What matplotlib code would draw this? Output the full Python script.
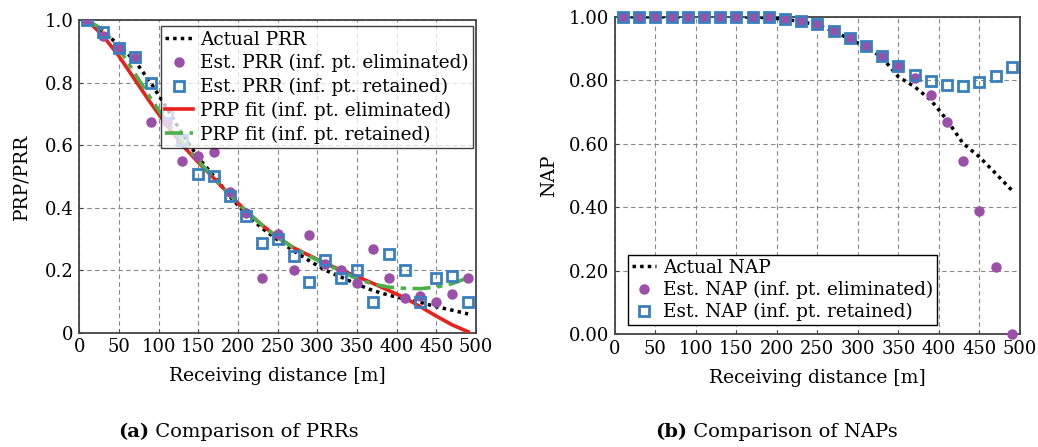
import matplotlib
matplotlib.use("Agg")
import matplotlib.pyplot as plt

plt.rcParams['font.family'] = ['DejaVu Serif']

# ---------------- data ----------------
dist = [10, 30, 50, 70, 90, 110, 130, 150, 170, 190, 210, 230, 250,
        270, 290, 310, 330, 350, 370, 390, 410, 430, 450, 470, 490]

# (a) PRR
prr_actual = [1.0, 0.965, 0.92, 0.87, 0.80, 0.72, 0.635, 0.56, 0.50, 0.435, 0.38,
              0.335, 0.297, 0.262, 0.23, 0.20, 0.178, 0.155, 0.135, 0.12, 0.108,
              0.097, 0.083, 0.072, 0.06]
prr_est_elim = [1.0, 0.949, 0.91, 0.88, 0.675, 0.675, 0.55, 0.566, 0.579, 0.451, 0.382,
                0.176, 0.316, 0.20, 0.313, 0.219, 0.20, 0.158, 0.267, 0.176, 0.112,
                0.117, 0.099, 0.124, 0.176]
prr_est_ret = [1.0, 0.961, 0.91, 0.883, 0.80, 0.702, 0.617, 0.508, 0.50, 0.437, 0.374,
               0.286, 0.299, 0.245, 0.163, 0.233, 0.176, 0.20, 0.099, 0.251, 0.20,
               0.099, 0.176, 0.181, 0.099]
prp_fit_elim = [1.0, 0.95, 0.885, 0.81, 0.735, 0.665, 0.60, 0.545, 0.493, 0.44, 0.39,
                0.345, 0.305, 0.272, 0.247, 0.222, 0.20, 0.18, 0.158, 0.135, 0.112,
                0.083, 0.053, 0.025, 0.003]
prp_fit_ret = [1.0, 0.97, 0.91, 0.83, 0.75, 0.675, 0.61, 0.55, 0.495, 0.44, 0.39,
               0.345, 0.305, 0.272, 0.245, 0.22, 0.197, 0.172, 0.156, 0.146, 0.142,
               0.141, 0.146, 0.157, 0.176]

# (b) NAP
nap_actual = [1.0, 1.0, 1.0, 1.0, 1.0, 1.0, 1.0, 1.0, 0.999, 0.997, 0.992, 0.985, 0.974,
              0.955, 0.93, 0.905, 0.872, 0.811, 0.78, 0.738, 0.675, 0.601, 0.559,
              0.507, 0.454]
nap_est_elim = [1.0, 1.0, 1.0, 1.0, 1.0, 1.0, 1.0, 1.0, 1.0, 0.998, 0.993, 0.986, 0.976,
                0.956, 0.934, 0.908, 0.877, 0.845, 0.806, 0.754, 0.67, 0.547, 0.389,
                0.213, 0.0]
nap_est_ret = [1.0, 1.0, 1.0, 1.0, 1.0, 1.0, 1.0, 1.0, 1.0, 0.998, 0.993, 0.986, 0.976,
               0.956, 0.934, 0.908, 0.877, 0.845, 0.817, 0.798, 0.785, 0.783, 0.794,
               0.815, 0.841]

xticks = [0, 50, 100, 150, 200, 250, 300, 350, 400, 450, 500]
yticks_a = [0, 0.2, 0.4, 0.6, 0.8, 1.0]
ytick_labels_a = ['0', '0.2', '0.4', '0.6', '0.8', '1.0']
yticks_b = [0, 0.2, 0.4, 0.6, 0.8, 1.0]
ytick_labels_b = ['0.00', '0.20', '0.40', '0.60', '0.80', '1.00']

# ---------------- styles ----------------
PURPLE = '#9a4fa8'
BLUE = '#3a7fbd'
RED = '#e8211d'
GREEN = '#4cb04a'
FS_TICK = 13
FS_LAB = 13.5
FS_LEG = 13.3
FS_CAP = 14

fig = plt.figure(figsize=(10.38, 4.47), dpi=100)
axa = fig.add_axes([0.0764, 0.2557, 0.3822, 0.699])
axb = fig.add_axes([0.5923, 0.2521, 0.3902, 0.7103])

dot = (0, (1, 1.2))


def style(ax, yt, ytl):
    ax.set_xlim(0, 500)
    ax.set_ylim(0, 1)
    ax.set_xticks(xticks)
    ax.set_xticklabels([str(t) for t in xticks])
    ax.set_yticks(yt)
    ax.set_yticklabels(ytl)
    ax.tick_params(labelsize=FS_TICK, direction='in', length=3, width=0.8, color='#444444', pad=4)
    ax.grid(True, linestyle=(0, (4, 3)), color='#888888', linewidth=0.8)
    ax.set_axisbelow(True)
    for s in ax.spines.values():
        s.set_color('#444444')
        s.set_linewidth(1.3)
    ax.set_xlabel('Receiving distance [m]', fontsize=FS_LAB, labelpad=8)


# (a)
axa.plot(dist, prr_actual, color='black', linestyle=dot, linewidth=2.5, label='Actual PRR', zorder=3)
axa.plot(dist, prr_est_elim, linestyle='none', marker='o', ms=6.5, color=PURPLE,
         mec=PURPLE, label='Est. PRR (inf. pt. eliminated)', zorder=4)
axa.plot(dist, prr_est_ret, linestyle='none', marker='s', ms=7.5, mfc='none', mec=BLUE,
         mew=2.0, label='Est. PRR (inf. pt. retained)', zorder=5)
axa.plot(dist, prp_fit_elim, color=RED, linewidth=2.6, label='PRP fit (inf. pt. eliminated)', zorder=3)
axa.plot(dist, prp_fit_ret, color=GREEN, linewidth=2.6, linestyle=(0, (5, 1.8, 1.5, 1.8)),
         label='PRP fit (inf. pt. retained)', zorder=3)
style(axa, yticks_a, ytick_labels_a)
axa.set_ylabel('PRP/PRR', fontsize=FS_LAB, labelpad=10)
lga = axa.legend(loc='upper right', bbox_to_anchor=(0.992, 0.98), borderaxespad=0,
                 fontsize=FS_LEG, frameon=True, fancybox=False, edgecolor='black', framealpha=0.75,
                 handlelength=1.5, handletextpad=0.4, labelspacing=0.3, borderpad=0.22)
lga.get_frame().set_linewidth(1.0)

# (b)
axb.plot(dist, nap_actual, color='black', linestyle=dot, linewidth=2.5, label='Actual NAP', zorder=3)
axb.plot(dist, nap_est_elim, linestyle='none', marker='o', ms=6.5, color=PURPLE,
         mec=PURPLE, label='Est. NAP (inf. pt. eliminated)', zorder=4, clip_on=False)
axb.plot(dist, nap_est_ret, linestyle='none', marker='s', ms=7.5, mfc='none', mec=BLUE,
         mew=2.0, label='Est. NAP (inf. pt. retained)', zorder=5, clip_on=False)
style(axb, yticks_b, ytick_labels_b)
axb.set_ylabel('NAP', fontsize=FS_LAB, labelpad=8)
lgb = axb.legend(loc='lower left', bbox_to_anchor=(0.033, 0.029), borderaxespad=0,
                 fontsize=FS_LEG, frameon=True, fancybox=False, edgecolor='black', framealpha=1.0,
                 handlelength=1.3, handletextpad=0.4, labelspacing=0.22, borderpad=0.2)
lgb.get_frame().set_linewidth(1.0)

# captions
ta = fig.text(118 / 1038, 1 - 432 / 447, '(a)', fontsize=FS_CAP, fontweight='bold', va='center', ha='left')
fig.add_artist(plt.Annotation(' Comparison of PRRs', xy=(1, 0), xycoords=ta, va='bottom',
                              ha='left', fontsize=FS_CAP))
tb = fig.text(655 / 1038, 1 - 432 / 447, '(b)', fontsize=FS_CAP, fontweight='bold', va='center', ha='left')
fig.add_artist(plt.Annotation(' Comparison of NAPs', xy=(1, 0), xycoords=tb, va='bottom',
                              ha='left', fontsize=FS_CAP))

fig.savefig('out.png', dpi=100)
